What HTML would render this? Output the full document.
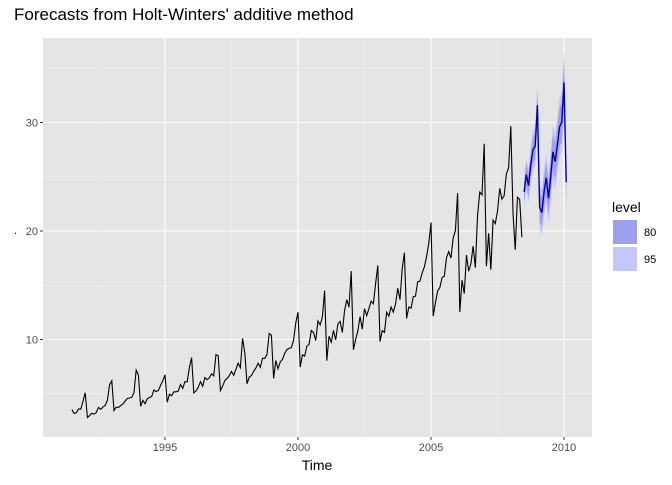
<!DOCTYPE html>
<html><head><meta charset="utf-8"><style>
body{margin:0;background:#fff;font-family:"Liberation Sans",sans-serif}
</style></head><body>
<svg id="c" width="672" height="480" xmlns="http://www.w3.org/2000/svg" font-family="Liberation Sans, sans-serif"></svg>
<script>
const actual=[3.53,3.18,3.25,3.61,3.57,4.31,5.09,2.81,2.99,3.20,3.13,3.27,3.74,3.56,3.78,3.92,4.39,5.81,6.19,3.45,3.77,3.73,3.91,4.05,4.32,4.56,4.61,4.67,5.09,7.18,6.73,3.84,4.39,4.08,4.54,4.65,4.75,5.35,5.20,5.30,5.77,6.20,6.75,4.22,4.95,4.82,5.19,5.17,5.26,5.86,5.49,6.12,6.09,7.42,8.33,5.07,5.26,5.60,6.11,5.69,6.49,6.30,6.47,6.83,6.65,8.61,8.52,5.28,5.71,6.21,6.41,6.67,7.05,6.70,7.25,7.82,7.40,10.10,8.80,5.92,6.53,6.68,7.06,7.38,7.81,7.43,8.28,8.26,8.60,10.56,10.39,6.42,8.06,7.30,7.94,8.17,8.72,9.07,9.18,9.25,9.93,11.53,12.51,7.46,8.59,8.47,9.39,9.56,10.83,10.64,9.91,11.71,11.34,12.08,14.50,8.05,10.31,9.75,10.85,9.96,11.44,11.66,10.65,12.65,13.67,12.97,16.30,9.05,10.00,10.79,12.11,10.95,12.84,12.20,12.85,13.54,13.29,15.13,16.83,9.80,10.82,10.65,12.51,12.16,13.00,12.52,13.27,14.73,13.67,16.50,18.00,11.94,13.00,12.88,13.94,13.99,15.34,15.37,16.14,16.69,17.64,18.87,20.78,12.15,13.40,14.46,14.80,15.71,15.83,17.55,18.10,17.50,19.35,20.03,23.49,12.54,15.47,14.23,17.78,16.29,16.98,18.61,16.62,21.43,23.58,23.33,28.04,16.76,19.79,16.43,21.00,20.68,21.83,23.93,22.93,23.26,25.25,25.81,29.67,21.65,18.26,23.11,22.91,19.43];
const forecast=[23.6,25.2,24.2,26.1,27.5,27.8,31.6,22.2,21.7,23.6,24.9,23.0,25.0,27.3,26.4,27.9,29.6,30.0,33.7,24.5];
const band80=[0.9,1.0,1.1,1.1,1.2,1.2,1.3,1.3,1.4,1.4,1.5,1.5,1.6,1.6,1.7,1.7,1.8,1.8,1.9,1.9];
const band95=[1.4,1.5,1.6,1.7,1.8,1.9,2.0,2.0,2.1,2.2,2.3,2.3,2.4,2.5,2.6,2.6,2.7,2.8,2.9,2.9];
const xTicks=[1995,2000,2005,2010];
const yTicks=[10,20,30];
const start=1991.5, fstart=2008.5;
const NS="http://www.w3.org/2000/svg", svg=document.getElementById('c');
const X=t=>298+(t-2000)*26.6, Y=v=>231-(v-20)*10.85;
function mk(tag,at,par){const e=document.createElementNS(NS,tag);for(const k in at)e.setAttribute(k,at[k]);(par||svg).appendChild(e);return e;}
const L=43,R=592,T=38,B=437;
let e=mk('rect',{x:L,y:T,width:R-L,height:B-T,fill:'#e5e5e5'});


for(let t=1992.5;t<2011;t+=5){const x=X(t);if(x>L&&x<R){e=mk('line',{x1:x,x2:x,y1:T,y2:B,stroke:'#f2f2f2','stroke-width':0.6});

}}
for(let v=5;v<=35;v+=10){const y=Y(v);e=mk('line',{x1:L,x2:R,y1:y,y2:y,stroke:'#f2f2f2','stroke-width':0.6});

}
xTicks.forEach(t=>{const x=X(t);e=mk('line',{x1:x,x2:x,y1:T,y2:B,stroke:'#fff','stroke-width':1.1});


mk('line',{x1:x,x2:x,y1:B,y2:B+3,stroke:'#333'});
e=mk('text',{x:x,y:B+14,'text-anchor':'middle','font-size':11,fill:'#4d4d4d'});e.textContent=t;

});
yTicks.forEach(v=>{const y=Y(v);e=mk('line',{x1:L,x2:R,y1:y,y2:y,stroke:'#fff','stroke-width':1.1});


mk('line',{x1:L-3,x2:L,y1:y,y2:y,stroke:'#333'});
e=mk('text',{x:L-5,y:y+4,'text-anchor':'end','font-size':11,fill:'#4d4d4d'});e.textContent=v;

});
function band(w,col,name){let up=[],lo=[];forecast.forEach((v,i)=>{const x=X(fstart+i/12);up.push(x+','+Y(v+w[i]));lo.unshift(x+','+Y(v-w[i]));});
e=mk('polygon',{points:up.concat(lo).join(' '),fill:col});

}
band(band95,'#c6c6fa','band-95');
band(band80,'#9f9ff0','band-80');
e=mk('polyline',{points:actual.map((v,i)=>X(start+i/12)+','+Y(v)).join(' '),fill:'none',stroke:'#000','stroke-width':1.1});


e=mk('polyline',{points:forecast.map((v,i)=>X(fstart+i/12)+','+Y(v)).join(' '),fill:'none',stroke:'#0000aa','stroke-width':1.4});


e=mk('text',{x:14,y:20,'font-size':17,fill:'#000'});e.textContent="Forecasts from Holt-Winters' additive method";


e=mk('text',{x:317,y:470,'text-anchor':'middle','font-size':14,fill:'#000'});e.textContent='Time';


e=mk('text',{x:14,y:234,'font-size':11,fill:'#000'});e.textContent='.';


e=mk('text',{x:612,y:212,'font-size':14,fill:'#000'});e.textContent='level';


[['80','#9f9ff0',220],['95','#c6c6fa',247]].forEach(([l,c,y])=>{
e=mk('rect',{x:613,y:y,width:24,height:24,fill:c});


e=mk('text',{x:644,y:y+16,'font-size':11,fill:'#000'});e.textContent=l;

});
</script>
</body></html>
